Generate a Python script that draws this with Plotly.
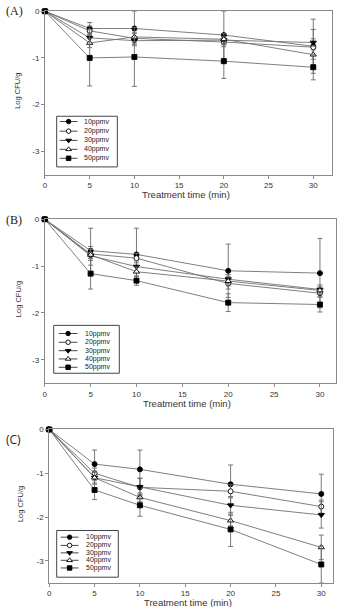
import plotly.graph_objects as go

# ---------------- data ----------------
times = [0, 5, 10, 20, 30]
series_names = ["10ppmv", "20ppmv", "30ppmv", "40ppmv", "50ppmv"]
panel_labels = ["(A)", "(B)", "(C)"]
x_tick_vals = [0, 5, 10, 15, 20, 25, 30]
y_tick_vals = [0, -1, -2, -3]
y_tick_text = ["0", "-1", "-2", "-3"]

# Panel A means / errors
a_10 = [0, -0.37, -0.37, -0.51, -0.75]
a_20 = [0, -0.42, -0.58, -0.66, -0.77]
a_30 = [0, -0.57, -0.63, -0.62, -0.67]
a_40 = [0, -0.68, -0.55, -0.60, -0.93]
a_50 = [0, -1.00, -0.98, -1.07, -1.20]
a_10_err = [0, 0.13, 0.37, 0.51, 0.58]
a_20_err = [0, 0.10, 0.10, 0.10, 0.38]
a_30_err = [0, 0.10, 0.08, 0.08, 0.08]
a_40_err = [0, 0.10, 0.10, 0.12, 0.10]
a_50_err = [0, 0.60, 0.63, 0.37, 0.27]

# Panel B
b_10 = [0, -0.67, -0.75, -1.10, -1.15]
b_20 = [0, -0.74, -0.83, -1.37, -1.58]
b_30 = [0, -0.78, -1.01, -1.28, -1.50]
b_40 = [0, -0.76, -1.12, -1.32, -1.52]
b_50 = [0, -1.16, -1.31, -1.78, -1.82]
b_10_err = [0, 0.48, 0.56, 0.57, 0.74]
b_20_err = [0, 0.10, 0.10, 0.12, 0.08]
b_30_err = [0, 0.20, 0.12, 0.10, 0.10]
b_40_err = [0, 0.12, 0.10, 0.10, 0.08]
b_50_err = [0, 0.33, 0.10, 0.19, 0.16]

# Panel C
c_10 = [0, -0.79, -0.91, -1.25, -1.47]
c_20 = [0, -1.00, -1.32, -1.41, -1.76]
c_30 = [0, -1.10, -1.31, -1.73, -1.95]
c_40 = [0, -1.10, -1.55, -2.08, -2.69]
c_50 = [0, -1.38, -1.73, -2.28, -3.08]
c_10_err = [0, 0.32, 0.44, 0.44, 0.45]
c_20_err = [0, 0.12, 0.20, 0.15, 0.15]
c_30_err = [0, 0.15, 0.20, 0.20, 0.30]
c_40_err = [0, 0.12, 0.10, 0.12, 0.28]
c_50_err = [0, 0.22, 0.25, 0.39, 0.42]

panel_means = [
    [a_10, a_20, a_30, a_40, a_50],
    [b_10, b_20, b_30, b_40, b_50],
    [c_10, c_20, c_30, c_40, c_50],
]
panel_errs = [
    [a_10_err, a_20_err, a_30_err, a_40_err, a_50_err],
    [b_10_err, b_20_err, b_30_err, b_40_err, b_50_err],
    [c_10_err, c_20_err, c_30_err, c_40_err, c_50_err],
]

# ---------------- layout (pixel geometry) ----------------
W, H = 344, 607
# left, right, top, bottom (px) of each plot box, and x range max
boxes = [
    dict(l=43.2, r=332.0, t=7.3, b=171.7, xmax=32.1),
    dict(l=43.0, r=335.5, t=216.7, b=381.7, xmax=31.7),
    dict(l=47.5, r=333.0, t=428.3, b=582.7, xmax=31.3),
]
legend_boxes = [
    dict(l=55, r=116, t=113, b=164, rows=[118.3, 128.0, 137.3, 146.3, 155.3], lx0=58, lx1=76, tx=80),
    dict(l=52, r=118, t=323.5, b=371.7, rows=[331.7, 340.5, 349.0, 357.3, 365.7], lx0=57, lx1=76, tx=81),
    dict(l=55, r=117, t=530, b=577, rows=[536.7, 545.0, 552.5, 560.0, 567.7], lx0=59, lx1=77, tx=82),
]
label_pos = [(2, 7.5), (2, 217), (2, 438)]
label_fonts = ["Liberation Serif", "Liberation Serif", "Open Sans"]
xtitle_y = [192, 402.5, 602.5]
ytitle_x = [16, 16, 18]

marker_symbols = ["circle", "circle", "triangle-down", "triangle-up", "square"]
marker_fills = ["black", "white", "black", "white", "black"]
marker_sizes = [5, 5, 5.5, 5.5, 5]

line_color = "#707070"
err_color = "#6a6a6a"
axis_color = "#8a8a8a"
font_family = "Arial, Liberation Sans, sans-serif"

fig = go.Figure()

for p in range(3):
    xa = "x" if p == 0 else f"x{p+1}"
    ya = "y" if p == 0 else f"y{p+1}"
    for s in range(5):
        fig.add_trace(go.Scatter(
            x=times, y=panel_means[p][s], xaxis=xa, yaxis=ya,
            mode="lines+markers", name=series_names[s], showlegend=False,
            line=dict(color=line_color, width=0.9),
            marker=dict(symbol=marker_symbols[s], size=marker_sizes[s], color=marker_fills[s],
                        line=dict(color="black", width=0.9)),
            error_y=dict(type="data", array=panel_errs[p][s], visible=True,
                         color=err_color, thickness=0.9, width=2.5),
            cliponaxis=False,
        ))

# legend glyphs on a full-page pixel overlay axis
for p in range(3):
    lb = legend_boxes[p]
    for s in range(5):
        yy = lb["rows"][s]
        fig.add_trace(go.Scatter(
            x=[lb["lx0"], lb["lx1"]], y=[yy, yy], xaxis="x4", yaxis="y4",
            mode="lines", showlegend=False, hoverinfo="skip",
            line=dict(color="#333333", width=0.9),
        ))
        fig.add_trace(go.Scatter(
            x=[(lb["lx0"] + lb["lx1"]) / 2], y=[yy], xaxis="x4", yaxis="y4",
            mode="markers", showlegend=False, hoverinfo="skip",
            marker=dict(symbol=marker_symbols[s], size=marker_sizes[s] - 0.5, color=marker_fills[s],
                        line=dict(color="black", width=0.9)),
        ))

layout = dict(
    width=W, height=H, autosize=False,
    margin=dict(l=0, r=0, t=0, b=0, pad=0),
    paper_bgcolor="white", plot_bgcolor="rgba(0,0,0,0)",
    font=dict(family=font_family, size=8, color="#333333"),
    showlegend=False,
)

for p, bx in enumerate(boxes):
    xk = "xaxis" if p == 0 else f"xaxis{p+1}"
    yk = "yaxis" if p == 0 else f"yaxis{p+1}"
    ya = "y" if p == 0 else f"y{p+1}"
    xa = "x" if p == 0 else f"x{p+1}"
    layout[xk] = dict(
        domain=[bx["l"] / W, bx["r"] / W], anchor=ya, range=[0, bx["xmax"]],
        tickvals=x_tick_vals, ticks="outside", ticklen=3, tickwidth=0.8, tickcolor=axis_color,
        showline=True, linecolor=axis_color, linewidth=1, mirror=True,
        showgrid=False, zeroline=False, tickfont=dict(size=8, color="#333333"),
    )
    layout[yk] = dict(
        domain=[1 - bx["b"] / H, 1 - bx["t"] / H], anchor=xa, range=[-3.5, 0],
        tickvals=y_tick_vals, ticktext=y_tick_text, ticks="outside", ticklen=3, tickwidth=0.8,
        tickcolor=axis_color, showline=True, linecolor=axis_color, linewidth=1, mirror=True,
        showgrid=False, zeroline=False, tickfont=dict(size=8, color="#333333"),
    )

layout["xaxis4"] = dict(domain=[0, 1], anchor="y4", range=[0, W], visible=False, fixedrange=True)
layout["yaxis4"] = dict(domain=[0, 1], anchor="x4", range=[H, 0], visible=False, fixedrange=True)

shapes = []
annotations = []
for p in range(3):
    lb = legend_boxes[p]
    shapes.append(dict(type="rect", xref="x4", yref="y4", x0=lb["l"], x1=lb["r"], y0=lb["t"], y1=lb["b"],
                       line=dict(color="#444444", width=1), fillcolor="rgba(0,0,0,0)", layer="below"))
    for s in range(5):
        annotations.append(dict(xref="x4", yref="y4", x=lb["tx"], y=lb["rows"][s], text=series_names[s],
                                showarrow=False, xanchor="left", yanchor="middle",
                                font=dict(size=7, color="#222222", family=font_family)))
    bx = boxes[p]
    annotations.append(dict(xref="x4", yref="y4", x=(bx["l"] + bx["r"]) / 2 - 3, y=xtitle_y[p],
                            text="Treatment time (min)", showarrow=False, xanchor="center", yanchor="middle",
                            font=dict(size=9.5, color="#333333", family=font_family)))
    annotations.append(dict(xref="x4", yref="y4", x=ytitle_x[p], y=(bx["t"] + bx["b"]) / 2 - 2,
                            text="Log CFU/g", textangle=-90, showarrow=False,
                            xanchor="center", yanchor="middle",
                            font=dict(size=7.5, color="#333333", family=font_family)))
    annotations.append(dict(xref="x4", yref="y4", x=label_pos[p][0], y=label_pos[p][1],
                            text=panel_labels[p], showarrow=False, xanchor="left", yanchor="middle",
                            font=dict(size=12, color="#222222", family=label_fonts[p])))

layout["shapes"] = shapes
layout["annotations"] = annotations
fig.update_layout(**layout)

fig.write_html("out.html")
